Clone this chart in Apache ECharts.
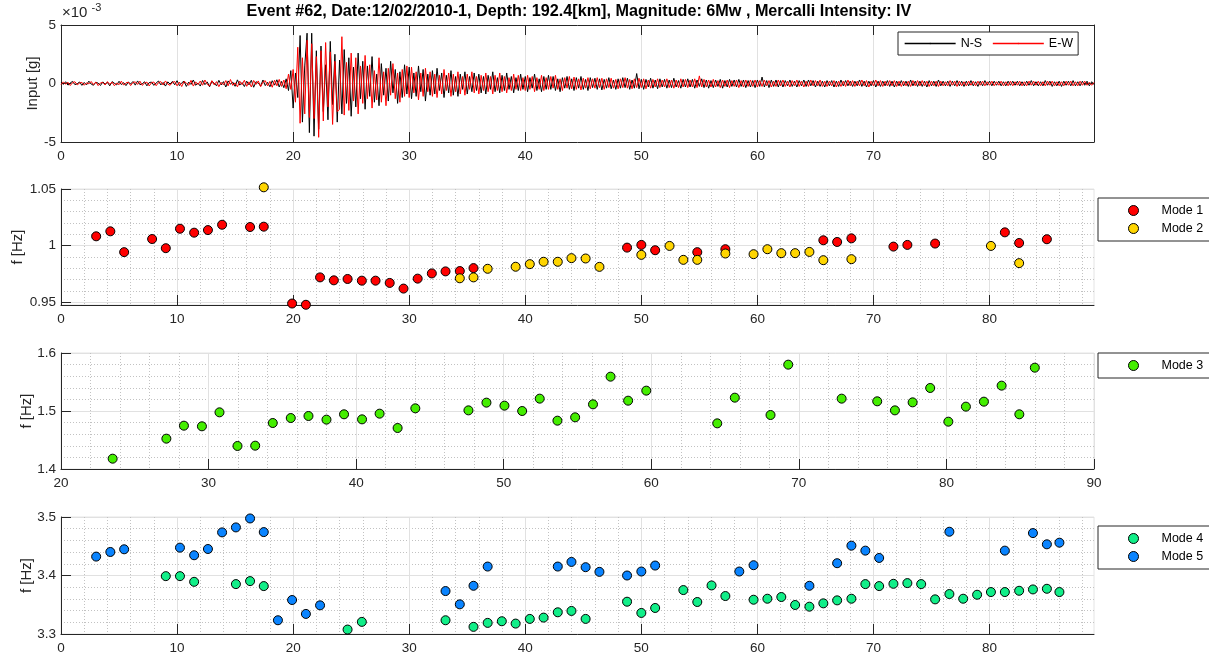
<!DOCTYPE html>
<html>
<head>
<meta charset="utf-8">
<script src="https://cdn.jsdelivr.net/npm/echarts@6/dist/echarts.min.js"></script>
<style>
  html, body { margin: 0; padding: 0; background: #ffffff; }
  #chart { width: 1209px; height: 657px; }
</style>
</head>
<body>
<div id="chart"></div>
<script>
// ---- ground acceleration record, units of 1e-3 g, one sample every DT seconds ----
const DT = 0.2;
const accNS = [
  0.12,-0.08,0.15,-0.14,0.05,0.18,-0.1,-0.02,0.13,-0.16,
  0.09,-0.12,0.2,-0.05,-0.15,0.11,0.03,-0.17,0.14,-0.06,
  0.1,-0.2,0.16,0.02,-0.12,0.19,-0.09,0.07,-0.18,0.12,
  -0.04,0.17,-0.14,0.22,-0.1,-0.03,0.15,-0.2,0.08,0.12,
  -0.16,0.05,0.21,-0.12,0.09,-0.22,0.14,-0.05,0.18,-0.11,
  0.24,-0.18,0.06,0.2,-0.25,0.12,-0.08,0.3,-0.15,0.04,
  -0.22,0.26,-0.1,0.14,-0.28,0.18,0.02,-0.2,0.27,-0.12,
  0.16,-0.3,0.22,-0.06,0.12,-0.24,0.31,-0.14,0.08,-0.26,
  0.2,-0.12,0.28,-0.32,0.15,0.04,-0.22,0.3,-0.18,0.1,
  -0.28,0.24,-0.14,0.32,-0.3,0.18,-0.36,0.4,-0.6,1.1,
  -2.1,0.9,-1.2,4.1,-3.3,1.5,4.3,-4.2,4.3,-4.5,
  2.8,-3.9,3.2,-2.4,1.6,-3.1,3.6,-1.8,2.5,-3.3,
  2.0,-2.6,2.9,-1.7,2.2,-2.8,1.4,-2.0,2.6,-1.3,
  1.9,-2.2,1.5,-1.1,2.3,-1.6,0.8,-1.9,1.7,-1.0,
  1.3,-1.5,1.9,-0.8,1.2,-1.7,1.0,-1.2,1.6,-0.9,
  1.4,-1.3,0.9,-1.1,1.5,-0.7,1.2,-1.5,0.8,-1.0,
  1.1,-0.9,1.3,-0.6,0.9,-1.2,0.7,-0.8,1.1,-1.0,
  0.6,-1.1,0.8,-0.5,1.0,-0.9,0.6,-0.7,0.9,-0.6,
  0.8,-0.8,0.6,-0.9,0.7,-0.5,1.0,-0.7,0.5,-0.8,
  0.7,-0.6,0.9,-0.5,0.6,-0.8,0.5,-0.6,0.8,-0.5,
  0.6,-0.7,0.5,-0.4,0.8,-0.6,0.4,-0.7,0.6,-0.5,
  0.7,-0.5,0.6,-0.6,0.4,-0.7,0.5,-0.4,0.6,-0.5,
  0.4,-0.6,0.5,-0.4,0.6,-0.5,0.35,-0.6,0.5,-0.35,
  0.45,-0.5,0.4,-0.55,0.35,-0.4,0.5,-0.45,0.3,-0.5,
  0.4,-0.4,0.5,-0.35,0.45,-0.5,0.3,-0.4,0.85,-0.45,
  0.35,-0.5,0.35,-0.3,0.45,-0.4,0.3,-0.45,0.4,-0.3,
  0.35,-0.4,0.3,-0.35,0.45,-0.3,0.25,-0.4,0.35,-0.3,
  0.4,-0.3,0.35,-0.4,0.3,-0.25,0.4,-0.35,0.3,-0.4,
  0.25,-0.35,0.3,-0.25,0.35,-0.4,0.25,-0.3,0.35,-0.25,
  0.3,-0.3,0.35,-0.25,0.3,-0.35,0.25,-0.3,0.25,-0.35,
  0.3,-0.25,0.55,-0.3,0.25,-0.35,0.3,-0.25,0.3,-0.3,
  0.25,-0.3,0.25,-0.2,0.3,-0.25,0.2,-0.3,0.25,-0.2,
  0.3,-0.25,0.3,-0.2,0.25,-0.3,0.2,-0.25,0.2,-0.3,
  0.25,-0.2,0.25,-0.3,0.2,-0.25,0.3,-0.2,0.25,-0.2,
  0.2,-0.25,0.2,-0.2,0.3,-0.25,0.2,-0.3,0.2,-0.2,
  0.25,-0.3,0.2,-0.25,0.2,-0.2,0.25,-0.25,0.2,-0.3,
  0.2,-0.2,0.25,-0.2,0.2,-0.25,0.3,-0.2,0.2,-0.25,
  0.2,-0.25,0.2,-0.3,0.25,-0.2,0.2,-0.25,0.3,-0.2,
  0.2,-0.2,0.2,-0.25,0.2,-0.2,0.25,-0.2,0.2,-0.25,
  0.2,-0.2,0.25,-0.2,0.15,-0.25,0.2,-0.2,0.25,-0.15,
  0.2,-0.2,0.2,-0.15,0.2,-0.2,0.15,-0.2,0.2,-0.15,
  0.2,-0.15,0.2,-0.2,0.15,-0.2,0.2,-0.15,0.25,-0.2,
  0.15,-0.2,0.15,-0.2,0.25,-0.15,0.2,-0.25,0.15,-0.2,
  0.2,-0.25,0.2,-0.15,0.2,-0.2,0.25,-0.2,0.15,-0.2,
  0.2,-0.15,0.2,-0.2,0.15,-0.1
];
const accEW = [
  -0.1,0.14,-0.06,0.11,-0.17,0.08,0.15,-0.12,0.04,0.1,
  -0.15,0.06,-0.03,0.17,-0.1,0.13,-0.18,0.05,0.09,-0.13,
  0.16,-0.07,0.12,-0.19,0.04,-0.1,0.2,-0.14,0.06,0.11,
  -0.18,0.09,0.14,-0.08,0.2,-0.16,0.03,0.12,-0.21,0.07,
  0.13,-0.19,0.08,0.16,-0.13,0.22,-0.06,-0.15,0.1,0.17,
  -0.2,0.12,-0.26,0.18,0.05,-0.16,0.27,-0.22,0.14,-0.09,
  0.21,-0.15,0.3,-0.08,-0.2,0.24,-0.12,0.16,-0.27,0.1,
  -0.12,0.25,-0.2,0.34,-0.16,0.06,-0.28,0.2,-0.1,0.28,
  -0.24,0.14,-0.3,0.26,-0.08,0.22,-0.27,0.12,0.24,-0.2,
  0.18,-0.32,0.28,-0.2,0.35,-0.25,0.3,-0.45,0.8,-0.5,
  1.2,-1.6,3.1,-3.4,2.2,-2.6,3.7,-2.9,3.4,-3.0,
  2.3,-4.6,2.8,-3.2,3.5,-2.0,2.7,-3.5,1.9,-2.4,
  -2.2,4.0,-2.7,1.8,-2.3,2.6,-1.5,2.2,-2.6,1.5,
  -1.7,2.4,-1.3,1.6,-2.1,1.1,-1.4,2.2,-1.6,1.0,
  -1.9,1.3,-1.0,1.7,-1.3,0.9,-1.6,1.2,-1.1,1.5,
  -1.2,1.4,-0.8,1.0,-1.4,0.9,-1.1,1.3,-0.7,1.0,
  -1.1,0.8,-1.2,0.7,-0.9,1.2,-0.6,0.9,-1.1,0.8,
  -0.7,1.0,-0.9,0.6,-1.0,0.8,-0.5,1.0,-0.8,0.6,
  -0.9,0.7,-0.6,0.9,-0.7,0.6,-0.9,0.7,-0.6,0.9,
  -0.7,0.6,-0.8,0.5,-0.6,0.8,-0.5,0.7,-0.6,0.5,
  -0.6,0.7,-0.5,0.6,-0.7,0.5,-0.5,0.7,-0.6,0.5,
  -0.5,0.6,-0.4,0.7,-0.5,0.4,-0.6,0.5,-0.4,0.6,
  -0.45,0.55,-0.5,0.4,-0.55,0.45,-0.4,0.5,-0.45,0.4,
  -0.4,0.5,-0.35,0.45,-0.5,0.4,-0.35,0.45,-0.4,0.35,
  -0.45,0.4,-0.35,0.5,-0.4,0.35,-0.45,0.4,-0.35,0.45,
  -0.35,0.4,-0.45,0.3,-0.4,0.35,-0.3,0.4,-0.35,0.3,
  -0.3,0.4,-0.35,0.3,-0.4,0.3,-0.35,0.4,-0.3,0.35,
  -0.35,0.3,-0.3,0.4,-0.35,0.65,-0.3,0.35,-0.3,0.3,
  -0.3,0.35,-0.3,0.25,-0.35,0.3,-0.25,0.3,-0.35,0.25,
  -0.25,0.3,-0.35,0.25,-0.3,0.3,-0.25,0.3,-0.25,0.3,
  -0.3,0.25,-0.25,0.3,-0.2,0.25,-0.3,0.2,-0.25,0.3,
  -0.2,0.3,-0.25,0.2,-0.3,0.25,-0.2,0.3,-0.25,0.2,
  -0.3,0.2,-0.25,0.3,-0.2,0.25,-0.2,0.3,-0.25,0.2,
  -0.25,0.2,-0.2,0.25,-0.3,0.2,-0.25,0.2,-0.25,0.3,
  -0.2,0.25,-0.25,0.2,-0.2,0.3,-0.2,0.25,-0.3,0.2,
  -0.2,0.3,-0.2,0.25,-0.25,0.2,-0.2,0.25,-0.2,0.25,
  -0.25,0.2,-0.25,0.2,-0.2,0.2,-0.25,0.25,-0.2,0.25,
  -0.2,0.25,-0.2,0.2,-0.25,0.2,-0.2,0.2,-0.25,0.2,
  -0.2,0.15,-0.2,0.25,-0.15,0.2,-0.25,0.2,-0.2,0.15,
  -0.2,0.2,-0.15,0.2,-0.2,0.2,-0.15,0.2,-0.2,0.15,
  -0.15,0.2,-0.2,0.15,-0.15,0.2,-0.2,0.15,-0.2,0.2,
  -0.2,0.15,-0.15,0.2,-0.2,0.15,-0.2,0.2,-0.15,0.2,
  -0.15,0.2,-0.2,0.15,-0.2,0.2,-0.15,0.2,-0.2,0.15,
  -0.2,0.15,-0.2,0.2,-0.15,0.2,-0.2,0.15,-0.2,0.2,
  -0.15,0.2,-0.15,0.1,-0.15,0.1
];

// ---- identified modal frequencies: window time [s] and frequency [Hz] ----
const mode1T = [3.03,4.25,5.44,7.85,9.03,10.25,11.47,12.66,13.88,16.29,17.47,19.91,21.10,22.32,23.51,24.69,25.92,27.10,28.32,29.51,30.73,31.95,33.13,34.36,35.54,48.77,50.0,51.19,54.82,57.24,65.68,66.87,68.10,71.72,72.92,75.31,81.32,82.55,84.94];
const mode1F = [1.0082,1.0126,0.9942,1.0058,0.9977,1.0149,1.0114,1.0137,1.0184,1.0164,1.0167,0.9488,0.9477,0.9719,0.9693,0.9705,0.9690,0.9690,0.9670,0.9620,0.9708,0.9754,0.9772,0.9775,0.9801,0.9982,1.0006,0.9959,0.9942,0.9968,1.0047,1.0032,1.0064,0.9991,1.0006,1.0018,1.0117,1.0023,1.0056];

const mode2T = [17.47,34.36,35.54,36.76,39.17,40.39,41.58,42.80,43.98,45.20,46.39,50.0,52.43,53.62,54.82,57.24,59.67,60.86,62.06,63.25,64.48,65.68,68.10,80.12,82.55];
const mode2F = [1.0515,0.9711,0.9719,0.9795,0.9813,0.9836,0.9857,0.9857,0.9889,0.9886,0.9812,0.9918,0.9997,0.9874,0.9874,0.9930,0.9924,0.9968,0.9933,0.9933,0.9944,0.9871,0.9880,0.9997,0.9845];

const mode3T = [23.50,27.14,28.33,29.55,30.74,31.96,33.16,34.35,35.57,36.77,37.99,39.18,40.40,41.59,42.81,44.01,47.61,48.83,50.05,51.25,52.44,53.64,54.84,56.05,57.24,58.43,59.66,64.47,65.66,68.08,69.28,72.90,75.31,76.51,77.71,78.90,80.13,81.32,82.54,83.74,84.94,85.99];
const mode3F = [1.4178,1.4523,1.4747,1.4736,1.4977,1.4397,1.4402,1.4793,1.4879,1.4914,1.4851,1.4943,1.4856,1.4954,1.4707,1.5046,1.5011,1.5144,1.5092,1.5000,1.5213,1.4833,1.4891,1.5115,1.5592,1.5178,1.5351,1.4787,1.5230,1.4931,1.5799,1.5213,1.5167,1.5011,1.5149,1.5397,1.4816,1.5075,1.5161,1.5437,1.4943,1.5747];

const mode4T = [9.03,10.25,11.47,15.07,16.29,17.47,24.69,25.92,33.13,35.54,36.76,37.98,39.17,40.39,41.58,42.80,43.98,45.20,48.77,50.0,51.19,53.62,54.82,56.05,57.24,59.67,60.86,62.06,63.25,64.48,65.68,66.87,68.10,69.30,70.49,71.72,72.92,74.11,75.31,76.54,77.73,78.93,80.12,81.32,82.55,83.74,84.94,86.02];
const mode4F = [3.3989,3.3989,3.3892,3.3853,3.3904,3.3819,3.3076,3.3207,3.3235,3.3122,3.3190,3.3218,3.3178,3.3258,3.3280,3.3371,3.3394,3.3258,3.3552,3.3360,3.3445,3.3751,3.3547,3.3830,3.3649,3.3586,3.3603,3.3632,3.3496,3.3467,3.3524,3.3575,3.3603,3.3853,3.3819,3.3858,3.3870,3.3853,3.3592,3.3683,3.3603,3.3671,3.3717,3.3717,3.3739,3.3762,3.3773,3.3717];

const mode5T = [3.03,4.25,5.44,10.25,11.47,12.66,13.88,15.07,16.29,17.47,18.69,19.91,21.10,22.32,33.13,34.36,35.54,36.76,42.80,43.98,45.20,46.39,48.77,50.0,51.19,58.44,59.67,64.48,66.87,68.10,69.30,70.49,76.54,81.32,83.74,84.94,86.02];
const mode5F = [3.4323,3.4402,3.4448,3.4476,3.4346,3.4453,3.4737,3.4822,3.4975,3.4742,3.3235,3.3581,3.3343,3.3490,3.3734,3.3507,3.3824,3.4153,3.4153,3.4232,3.4142,3.4062,3.4000,3.4068,3.4170,3.4068,3.4176,3.3824,3.4210,3.4510,3.4425,3.4300,3.4748,3.4425,3.4725,3.4533,3.4561];

// ---- tick labels ----
const timeTicks = [0, 10, 20, 30, 40, 50, 60, 70, 80];
const accTicks = [-5, 0, 5];
const mode12Ticks = [0.95, 1, 1.05];

const TITLE = 'Event #62, Date:12/02/2010-1, Depth: 192.4[km], Magnitude: 6Mw , Mercalli Intensity: IV';

// ---- styling ----
const FONT = '"Liberation Sans", Arial, Helvetica, sans-serif';
const DARK = '#262626';
const MAJOR = '#e1e1e1';
const MINOR = '#c2c2c2';
const TICK_FS = 13.5;
const NAME_FS = 15;
const NS_COLOR = '#000000';
const EW_COLOR = '#ff0000';

function axis(gridIndex, min, max, extra) {
  return Object.assign({
    type: 'value',
    gridIndex: gridIndex,
    min: min,
    max: max,
    axisLine: { show: true, onZero: false, lineStyle: { color: DARK, width: 1 } },
    axisTick: { show: true, inside: true, length: 10, lineStyle: { color: DARK, width: 1 } },
    axisLabel: { color: DARK, fontFamily: FONT, fontSize: TICK_FS, margin: 7 },
    splitLine: { show: true, lineStyle: { color: MAJOR, width: 1 } },
    minorTick: { show: false, splitNumber: 5 },
    minorSplitLine: { show: true, lineStyle: { color: MINOR, width: 1, type: [1, 2] } }
  }, extra || {});
}

function yName(text, gap) {
  return {
    name: text,
    nameLocation: 'middle',
    nameGap: gap,
    nameMoveOverlap: false,
    nameTextStyle: { color: DARK, fontFamily: FONT, fontSize: NAME_FS }
  };
}

const pairs = (xs, ys) => xs.map((x, i) => [x, ys[i]]);
const nsData = accNS.map((v, i) => [i * DT, v]);
const ewData = accEW.map((v, i) => [i * DT, v]);

const panelGrid = (top, height, framed) => ({
  left: 61, right: 115, top: top, height: height,
  outerBoundsMode: 'none',
  containLabel: false,
  show: framed,
  borderColor: '#e4e4e4',
  borderWidth: 1,
  backgroundColor: 'transparent'
});

const grids = [
  panelGrid(25, 117, false),
  panelGrid(189, 116, true),
  panelGrid(353, 116, true),
  panelGrid(517, 117, true)
];

const timeAxisLabel = { color: DARK, fontFamily: FONT, fontSize: TICK_FS, margin: 7, customValues: timeTicks };
const timeAxisTick = { show: true, inside: true, length: 10, lineStyle: { color: DARK }, customValues: timeTicks };

const xAxes = [
  axis(0, 0, 89, { interval: 10, minorSplitLine: { show: false }, axisLabel: timeAxisLabel, axisTick: timeAxisTick }),
  axis(0, 0, 89, {
    position: 'top',
    interval: 10,
    minorSplitLine: { show: false },
    splitLine: { show: false },
    axisLabel: { show: false },
    axisTick: timeAxisTick
  }),
  axis(1, 0, 89, { interval: 10, axisLabel: timeAxisLabel, axisTick: timeAxisTick }),
  axis(2, 20, 90, { interval: 10 }),
  axis(3, 0, 89, { interval: 10, axisLabel: timeAxisLabel, axisTick: timeAxisTick })
];

const yAxes = [
  axis(0, -5, 5, Object.assign({
    interval: 5,
    minorSplitLine: { show: false },
    axisLabel: { color: DARK, fontFamily: FONT, fontSize: TICK_FS, margin: 5, customValues: accTicks }
  }, yName('Input [g]', 21))),
  axis(0, -5, 5, {
    position: 'right',
    interval: 5,
    splitLine: { show: false },
    minorSplitLine: { show: false },
    axisLabel: { show: false }
  }),
  axis(1, 0.9475, 1.05, Object.assign({
    splitNumber: 2,
    axisLabel: { color: DARK, fontFamily: FONT, fontSize: TICK_FS, margin: 5, customValues: mode12Ticks },
    axisTick: { show: true, inside: true, length: 10, lineStyle: { color: DARK }, customValues: mode12Ticks }
  }, yName('f [Hz]', 36))),
  axis(2, 1.4, 1.6, Object.assign({
    interval: 0.1,
    axisLabel: { color: DARK, fontFamily: FONT, fontSize: TICK_FS, margin: 5 }
  }, yName('f [Hz]', 27))),
  axis(3, 3.3, 3.5, Object.assign({
    interval: 0.1,
    axisLabel: { color: DARK, fontFamily: FONT, fontSize: TICK_FS, margin: 5 }
  }, yName('f [Hz]', 27)))
];

function modeSeries(name, xi, yi, xs, ys, color) {
  return {
    name: name,
    type: 'scatter',
    xAxisIndex: xi,
    yAxisIndex: yi,
    data: pairs(xs, ys),
    symbol: 'circle',
    symbolSize: 9,
    clip: false,
    itemStyle: { color: color, borderColor: '#000000', borderWidth: 1, opacity: 1 },
    z: 3
  };
}

const series = [
  {
    name: 'N-S', type: 'line', xAxisIndex: 0, yAxisIndex: 0, data: nsData,
    symbol: 'none', color: NS_COLOR, itemStyle: { color: NS_COLOR },
    lineStyle: { color: NS_COLOR, width: 1 }, z: 2
  },
  {
    name: 'E-W', type: 'line', xAxisIndex: 0, yAxisIndex: 0, data: ewData,
    symbol: 'none', color: EW_COLOR, itemStyle: { color: EW_COLOR },
    lineStyle: { color: EW_COLOR, width: 1 }, z: 3
  },
  modeSeries('Mode 1', 2, 2, mode1T, mode1F, '#ff0000'),
  modeSeries('Mode 2', 2, 2, mode2T, mode2F, '#ffd500'),
  modeSeries('Mode 3', 3, 3, mode3T, mode3F, '#44ee00'),
  modeSeries('Mode 4', 4, 4, mode4T, mode4F, '#11ee88'),
  modeSeries('Mode 5', 4, 4, mode5T, mode5F, '#0a84ff')
];

function sideLegend(names, top) {
  return {
    data: names,
    orient: 'vertical',
    left: 1098,
    top: top,
    padding: [6, 24, 6, 30],
    itemWidth: 46,
    itemHeight: 10,
    itemGap: 5,
    selectedMode: false,
    backgroundColor: '#ffffff',
    borderColor: DARK,
    borderWidth: 1,
    borderRadius: 0,
    itemStyle: { borderColor: '#000000', borderWidth: 1 },
    textStyle: { color: '#000000', fontFamily: FONT, fontSize: 12.5, lineHeight: 13 }
  };
}

// legend key for a trace: a plain line in the trace colour
const traceKey = (name, color) => ({
  name: name,
  itemStyle: { color: color, borderWidth: 0 },
  lineStyle: { color: color, width: 1.3 }
});

const option = {
  animation: false,
  backgroundColor: '#ffffff',
  grid: grids,
  xAxis: xAxes,
  yAxis: yAxes,
  legend: [
    {
      data: [traceKey('N-S', NS_COLOR), traceKey('E-W', EW_COLOR)],
      orient: 'horizontal',
      left: 898,
      top: 32,
      padding: [5, 5, 5, 6],
      itemWidth: 51,
      itemHeight: 2,
      itemGap: 10,
      selectedMode: false,
      backgroundColor: '#ffffff',
      borderColor: DARK,
      borderWidth: 1,
      borderRadius: 0,
      textStyle: { color: '#000000', fontFamily: FONT, fontSize: 12.5, lineHeight: 13 }
    },
    sideLegend(['Mode 1', 'Mode 2'], 198),
    sideLegend(['Mode 3'], 353),
    sideLegend(['Mode 4', 'Mode 5'], 526)
  ],
  graphic: [
    {
      type: 'text', x: 579, y: 12,
      style: { text: TITLE, fill: '#000000', font: 'bold 16.2px ' + FONT, align: 'center', verticalAlign: 'middle' }
    },
    {
      type: 'text', x: 62, y: 13,
      style: { text: '\u00d710', fill: DARK, font: '15px ' + FONT, align: 'left', verticalAlign: 'middle' }
    },
    {
      type: 'text', x: 91.5, y: 7.5,
      style: { text: '-3', fill: DARK, font: '11px ' + FONT, align: 'left', verticalAlign: 'middle' }
    }
  ],
  series: series
};

const chart = echarts.init(document.getElementById('chart'), null, { renderer: 'canvas' });
chart.setOption(option);
</script>
</body>
</html>
